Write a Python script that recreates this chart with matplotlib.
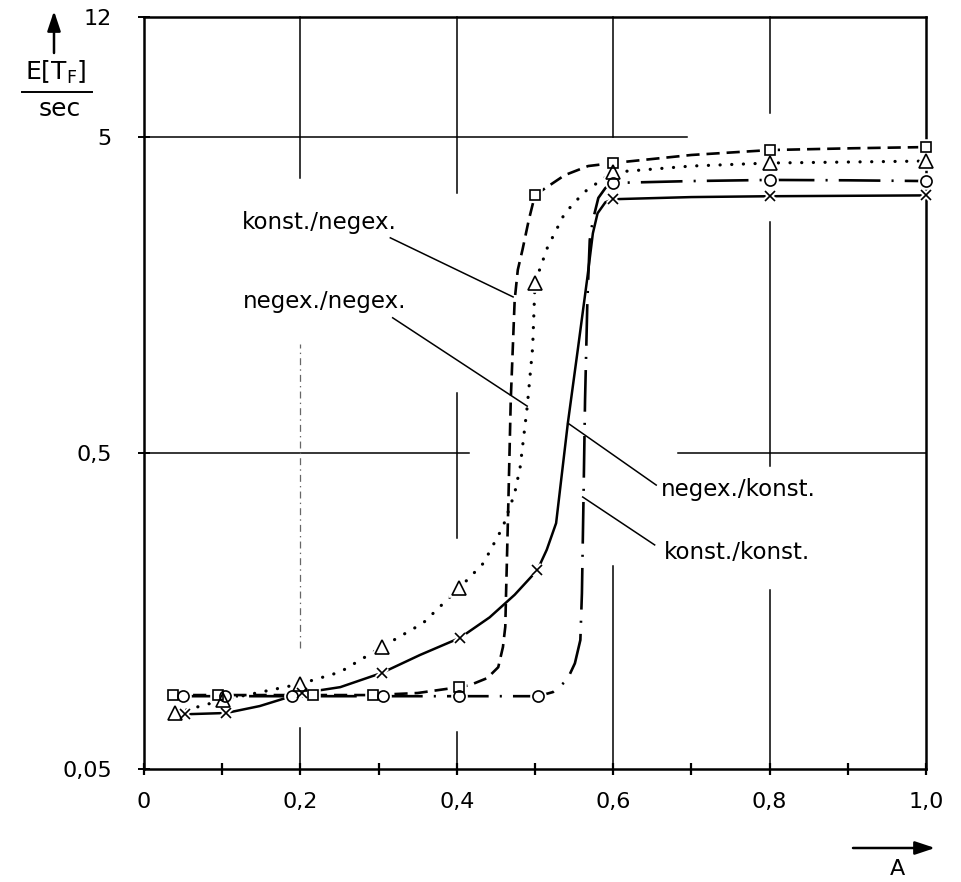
import matplotlib
matplotlib.use("Agg")
import matplotlib.pyplot as plt
from matplotlib.ticker import NullLocator

plt.rcParams['font.family'] = ['DejaVu Sans']
plt.rcParams['lines.scale_dashes'] = False

# ---------------------------------------------------------------------------
# Measured points (A, E[T_F] in sec) for the four service-time combinations
# ---------------------------------------------------------------------------
# konst./negex. (squares, dashed)
kn_A = [0.037, 0.095, 0.216, 0.293, 0.403, 0.5, 0.6, 0.8, 1.0]
kn_E = [0.0857, 0.0857, 0.0857, 0.0857, 0.0908, 3.28, 4.14, 4.55, 4.65]
# negex./negex. (triangles, dotted)
nn_A = [0.04, 0.101, 0.2, 0.304, 0.403, 0.5, 0.6, 0.8, 1.0]
nn_E = [0.0752, 0.0827, 0.093, 0.1216, 0.187, 1.73, 3.87, 4.14, 4.2]
# negex./konst. (crosses, solid)
nk_A = [0.052, 0.105, 0.202, 0.304, 0.404, 0.503, 0.6, 0.8, 1.0]
nk_E = [0.0745, 0.0752, 0.087, 0.1007, 0.130, 0.213, 3.18, 3.25, 3.27]
# konst./konst. (circles, dash-dot)
kk_A = [0.05, 0.104, 0.189, 0.305, 0.403, 0.504, 0.6, 0.8, 1.0]
kk_E = [0.085, 0.085, 0.085, 0.085, 0.085, 0.085, 3.58, 3.66, 3.63]

# Hand-faired curves through the measurements
kn_curve_A = [0.037, 0.095, 0.216, 0.293, 0.35, 0.403, 0.417, 0.439, 0.453, 0.459,
              0.462, 0.463, 0.464, 0.466, 0.469, 0.474, 0.478, 0.484, 0.492, 0.5,
              0.515, 0.538, 0.568, 0.6, 0.7, 0.8, 0.906, 1.0]
kn_curve_E = [0.0857, 0.0857, 0.0857, 0.0857, 0.087, 0.0908, 0.0922, 0.097, 0.105, 0.1216,
              0.141, 0.180, 0.224, 0.355, 0.736, 1.525, 1.90, 2.20, 2.73, 3.28,
              3.47, 3.79, 4.05, 4.14, 4.39, 4.55, 4.61, 4.65]

nn_curve_A = [0.04, 0.101, 0.2, 0.251, 0.304, 0.357, 0.403, 0.417, 0.434, 0.459,
              0.474, 0.481, 0.490, 0.497, 0.5, 0.516, 0.538, 0.563, 0.585, 0.6,
              0.7, 0.8, 0.9, 1.0]
nn_curve_E = [0.0752, 0.0827, 0.093, 0.1014, 0.1216, 0.1449, 0.187, 0.2026, 0.224, 0.292,
              0.373, 0.451, 0.699, 1.08, 1.73, 2.24, 2.87, 3.35, 3.66, 3.87,
              4.05, 4.14, 4.17, 4.2]

nk_curve_A = [0.052, 0.105, 0.148, 0.202, 0.251, 0.304, 0.353, 0.404, 0.442, 0.474,
              0.503, 0.515, 0.527, 0.533, 0.542, 0.555, 0.567, 0.574, 0.580, 0.590,
              0.6, 0.7, 0.8, 0.9, 1.0]
nk_curve_E = [0.0745, 0.0752, 0.0791, 0.087, 0.0908, 0.1007, 0.1148, 0.130, 0.151, 0.178,
              0.213, 0.247, 0.300, 0.402, 0.622, 1.075, 1.80, 2.48, 2.87, 3.11,
              3.18, 3.23, 3.25, 3.26, 3.27]

kk_curve_A = [0.05, 0.104, 0.189, 0.305, 0.403, 0.504, 0.523, 0.541, 0.551, 0.558,
              0.560, 0.562, 0.564, 0.567, 0.570, 0.574, 0.581, 0.59, 0.6, 0.7,
              0.8, 0.9, 1.0]
kk_curve_E = [0.085, 0.085, 0.085, 0.085, 0.085, 0.085, 0.0876, 0.0956, 0.108, 0.128,
              0.180, 0.355, 0.736, 1.525, 2.36, 2.73, 3.21, 3.45, 3.58, 3.63,
              3.66, 3.65, 3.63]

# Curve labels and their leader lines (label anchor, leader start, leader end)
label_texts = ["konst./negex.", "negex./negex.", "negex./konst.", "konst./konst."]
label_pos = [(0.125, 2.69), (0.127, 1.51), (0.661, 0.382), (0.665, 0.243)]
leader_from = [(0.315, 2.40), (0.318, 1.34), (0.655, 0.396), (0.653, 0.256)]
leader_to = [(0.472, 1.56), (0.490, 0.704), (0.542, 0.622), (0.561, 0.363)]

# Axis ticks
x_ticks_major = [0.0, 0.2, 0.4, 0.6, 0.8, 1.0]
x_tick_labels = ["0", "0,2", "0,4", "0,6", "0,8", "1,0"]
x_ticks_minor = [0.1, 0.3, 0.5, 0.7, 0.9]
y_ticks = [0.05, 0.5, 5, 12]
y_tick_labels = ["0,05", "0,5", "5", "12"]

# Drawn grid pieces: horizontal (y, x0, x1) and vertical (x, y0, y1)
grid_h = [(5, 0.0, 0.694), (0.5, 0.0, 0.415), (0.5, 0.683, 1.0)]
grid_v = [(0.2, 3.71, 12), (0.2, 0.05, 0.0674),
          (0.4, 3.33, 12), (0.4, 0.269, 0.775), (0.4, 0.05, 0.0655),
          (0.6, 5.0, 12), (0.6, 0.05, 0.22),
          (0.8, 5.95, 12), (0.8, 0.456, 2.7), (0.8, 0.05, 0.184)]
grid_v_faint = [(0.2, 0.121, 1.11)]

# ---------------------------------------------------------------------------
W, H = 961, 882
fig = plt.figure(figsize=(W / 100, H / 100), dpi=100)
ax = fig.add_axes([144 / W, 1 - 769 / H, 782 / W, 752 / H])
ax.set_yscale('log')
ax.set_xlim(0, 1.0)
ax.set_ylim(0.05, 12)

for sp in ax.spines.values():
    sp.set_linewidth(1.8)

ax.set_xticks(x_ticks_major)
ax.set_xticklabels(x_tick_labels)
ax.set_xticks(x_ticks_minor, minor=True)
ax.set_yticks(y_ticks)
ax.set_yticklabels(y_tick_labels)
ax.yaxis.set_minor_locator(NullLocator())
ax.tick_params(axis='x', which='both', direction='inout', length=8, width=1.6,
               labelsize=16, pad=12.6)
ax.tick_params(axis='y', which='both', direction='inout', length=8, width=1.4,
               labelsize=16, pad=19)

# grid pieces
for y, x0, x1 in grid_h:
    ax.plot([x0, x1], [y, y], color='black', lw=1.1, zorder=1, clip_on=False)
for x, y0, y1 in grid_v:
    ax.plot([x, x], [y0, y1], color='black', lw=1.1, zorder=1, clip_on=False)
for x, y0, y1 in grid_v_faint:
    ax.plot([x, x], [y0, y1], color='0.4', lw=0.9, zorder=1,
            linestyle=(0, (5, 3, 1, 3)))

# curves
curve_style = dict(color='black', zorder=2, clip_on=False)
ax.plot(kn_curve_A, kn_curve_E, lw=1.9, linestyle=(0, (9.5, 5)), **curve_style)
ax.plot(nn_curve_A, nn_curve_E, lw=2.3, linestyle=(0, (0.1, 8.3)),
        dash_capstyle='round', **curve_style)
ax.plot(nk_curve_A, nk_curve_E, lw=1.8, linestyle='-', **curve_style)
ax.plot(kk_curve_A, kk_curve_E, lw=1.9, linestyle=(0, (30, 8, 1.5, 8)),
        dash_capstyle='butt', **curve_style)

# markers: white knock-out first, then open outlines
markers = [(kn_A, kn_E, 's', 7.4), (nn_A, nn_E, '^', 9.4),
           (nk_A, nk_E, 'x', 7.4), (kk_A, kk_E, 'o', 8.0)]
for xs, ys, m, ms in markers:
    ax.plot(xs, ys, linestyle='none', marker=m, ms=ms, mfc='white', mec='white',
            mew=4.0, zorder=3, clip_on=False)
for xs, ys, m, ms in markers:
    ax.plot(xs, ys, linestyle='none', marker=m, ms=ms, mfc='none', mec='black',
            mew=1.2, zorder=4, clip_on=False)

# labels with leader lines
for txt, (tx, ty), (x0, y0), (x1, y1) in zip(label_texts, label_pos,
                                              leader_from, leader_to):
    ax.text(tx, ty, txt, fontsize=16.5, ha='left', va='center', zorder=5)
    ax.plot([x0, x1], [y0, y1], color='black', lw=1.1, zorder=2)

# axis designations with arrows (figure pixel positions)
def fpos(px, py):
    return (px / W, 1 - py / H)

arrow_props = dict(arrowstyle='-|>,head_length=0.6,head_width=0.2',
                   lw=1.8, color='black', mutation_scale=20, shrinkA=0, shrinkB=0)
ax.annotate('', xy=fpos(54, 11), xytext=fpos(54, 53), xycoords='figure fraction',
            textcoords='figure fraction', arrowprops=arrow_props)
ax.annotate('', xy=fpos(935, 848), xytext=fpos(853, 848), xycoords='figure fraction',
            textcoords='figure fraction', arrowprops=arrow_props)

fig.text(*fpos(56, 72), r'E[T$_\mathregular{F}$]', fontsize=18, ha='center',
         va='center')
fig.add_artist(plt.Line2D([22 / W, 92 / W], [1 - 92 / H, 1 - 92 / H],
                          color='black', lw=1.4))
fig.text(*fpos(60, 109), 'sec', fontsize=18, ha='center', va='center')
fig.text(*fpos(897, 879), 'A', fontsize=16, ha='center', va='bottom')

fig.savefig('out.png', dpi=100, facecolor='white')
